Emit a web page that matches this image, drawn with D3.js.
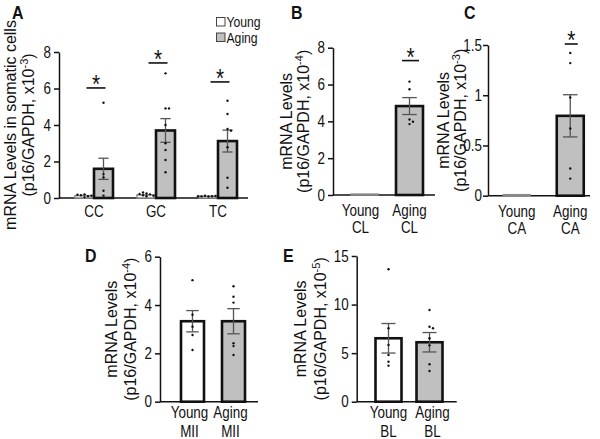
<!DOCTYPE html>
<html>
<head>
<meta charset="utf-8">
<script src="https://cdn.jsdelivr.net/npm/d3@7"></script>
<style>
  body { margin: 0; background: #fff; }
  svg text { font-family: "Liberation Sans", Arial, sans-serif; fill: #111; }
</style>
</head>
<body>
<svg id="fig" width="600" height="439"></svg>
<script>
// values
const groups = ["Young", "Aging"];

// A - somatic cells, x10^-3
const aCats = ["CC", "GC", "TC"];
const aYoungMean = [0.13, 0.17, 0.10];
const aYoungSem = [0.03, 0.03, 0.02];
const aYoungDots = [
  [0.05, 0.10, 0.15, 0.20, 0.12, 0.18, 0.08],
  [0.10, 0.20, 0.25, 0.15, 0.30, 0.12, 0.22],
  [0.08, 0.10, 0.12, 0.11, 0.09, 0.13, 0.10]
];
const aAgingMean = [1.6, 3.7, 3.12];
const aAgingSem = [0.58, 0.65, 0.6];
const aAgingDots = [
  [5.22, 1.31, 1.13, 0.40, 0.13],
  [6.83, 4.91, 4.91, 4.0, 3.0, 2.63, 2.08, 1.41],
  [5.33, 4.6, 3.78, 3.69, 2.78, 1.11, 0.56]
];
const aSig = [6.03, 7.4, 6.36];
const aTicks = [0, 2, 4, 6, 8];

// B - CL, x10^-4
const bMean = [0.05, 4.83];
const bSem = [0.01, 0.46];
const bDots = [[], [6.16, 5.74, 4.1, 3.98, 3.85]];
const bSig = 7.3;
const bTicks = [0, 2, 4, 6, 8];

// C - CA, x10^-3
const cMean = [0.01, 0.795];
const cSem = [0.002, 0.21];
const cDots = [[], [1.42, 1.32, 0.977, 0.67, 0.27, 0.17]];
const cSig = 1.51;
const cTicks = [0, 0.5, 1, 1.5];

// D - MII, x10^-4
const dMean = [3.33, 3.33];
const dSem = [0.44, 0.52];
const dDots = [[5.03, 3.6, 3.1, 2.76, 2.14], [4.78, 4.34, 4.1, 2.42, 2.3, 1.93]];
const dTicks = [0, 2, 4, 6];

// E - BL, x10^-5
const eMean = [6.53, 6.12];
const eSem = [1.52, 1.0];
const eDots = [[13.63, 7.56, 5.84, 4.81, 4.12, 3.71], [9.44, 7.72, 7.56, 6.53, 5.8, 3.86, 3.16]];
const eTicks = [0, 5, 10, 15];

const fill = {Young: "#ffffff", Aging: "#c0c0c0"};
const SX = 0.84;   // text in the figure is horizontally squeezed

const svg = d3.select("#fig");

function htext(g, x, y, str, size, anchor, weight) {
  return g.append("text")
    .attr("transform", "translate(" + x + "," + y + ") scale(" + SX + ",1)")
    .attr("text-anchor", anchor || "middle")
    .attr("font-size", size)
    .attr("font-weight", weight || "normal")
    .attr("fill", "#111")
    .text(str);
}

// simple beeswarm so overlapping dots sit side by side
function swarm(vals, y, cx) {
  const placed = [];
  const offs = [0, 3.5, -3.5, 7, -7, 10.5, -10.5];
  return vals.map(v => {
    const py = y(v);
    for (const o of offs) {
      if (!placed.some(p => Math.abs(p[1] - py) < 2.6 && Math.abs(p[0] - (cx + o)) < 3)) {
        placed.push([cx + o, py]);
        return [cx + o, py];
      }
    }
    return [cx, py];
  });
}

function drawBar(g, y, cx, w, mean, sem, dots, color) {
  const top = y(mean), base = y(0);
  const tiny = base - top < 4;
  g.append("rect")
    .attr("x", cx - w / 2).attr("y", top)
    .attr("width", w).attr("height", Math.max(base - top, 0.5))
    .attr("fill", color)
    .attr("stroke", tiny ? "#8a8a8a" : "#111")
    .attr("stroke-width", tiny ? 1.5 : 2.6);
  if (!tiny) {
    const cap = w * 0.27;
    const eb = g.append("g").attr("stroke", "#555").attr("stroke-width", 1.3);
    eb.append("line").attr("x1", cx).attr("x2", cx).attr("y1", y(mean + sem)).attr("y2", y(mean - sem));
    eb.append("line").attr("x1", cx - cap).attr("x2", cx + cap).attr("y1", y(mean + sem)).attr("y2", y(mean + sem));
    eb.append("line").attr("x1", cx - cap).attr("x2", cx + cap).attr("y1", y(mean - sem)).attr("y2", y(mean - sem));
  }
  g.selectAll(null).data(swarm(dots, y, cx)).enter().append("circle")
    .attr("cx", d => d[0]).attr("cy", d => d[1]).attr("r", 1.2).attr("fill", "#111");
}

function drawSig(g, y, cx, w, v) {
  g.append("line").attr("x1", cx - w / 2).attr("x2", cx + w / 2)
    .attr("y1", y(v)).attr("y2", y(v)).attr("stroke", "#111").attr("stroke-width", 1.6);
  htext(g, cx, y(v) + 5, "*", 25);
}

function yAxis(g, y, ticks, fmt, axX, axEnd, pad) {
  const ax = g.append("g").attr("transform", "translate(" + axX + ",0)")
    .call(d3.axisLeft(y).tickValues(ticks).tickFormat(fmt || d3.format("d")).tickSize(5).tickSizeOuter(0));
  ax.select(".domain").attr("stroke", "#111").attr("stroke-width", 1.5);
  ax.selectAll(".tick line").attr("stroke", "#111").attr("stroke-width", 1.5);
  ax.selectAll(".tick text")
    .attr("x", 0)
    .attr("transform", "translate(" + (-(pad || 8)) + ",0) scale(" + SX + ",1)")
    .attr("font-size", 16).attr("fill", "#111");
  g.append("line").attr("x1", axX).attr("x2", axEnd)
    .attr("y1", y(0)).attr("y2", y(0)).attr("stroke", "#111").attr("stroke-width", 1.5);
}

function yLabel(g, x1, x2, yc, line1, expo) {
  g.append("text")
    .attr("transform", "translate(" + x1 + "," + yc + ") rotate(-90)")
    .attr("text-anchor", "middle").attr("font-size", 16).attr("fill", "#111").text(line1);
  const t = g.append("text")
    .attr("transform", "translate(" + x2 + "," + yc + ") rotate(-90)")
    .attr("text-anchor", "middle").attr("font-size", 16).attr("fill", "#111");
  t.append("tspan").text("(p16/GAPDH, x10");
  t.append("tspan").attr("font-size", 11).attr("dy", -6).text(expo);
  t.append("tspan").attr("dy", 6).text(")");
}

// ---------- panel A ----------
(function () {
  const g = svg.append("g");
  const y = d3.scaleLinear().domain([0, 8]).range([198, 52]);
  const x0 = d3.scaleBand().domain(aCats).range([63, 249]);
  const x1 = d3.scaleBand().domain(groups).range([-19, 19]);
  yAxis(g, y, aTicks, null, 59, 248);
  aCats.forEach((c, i) => {
    const cx = x0(c) + x0.bandwidth() / 2;
    drawBar(g, y, cx + x1("Young") + x1.bandwidth() / 2, x1.bandwidth(), aYoungMean[i], aYoungSem[i], aYoungDots[i], fill.Young);
    drawBar(g, y, cx + x1("Aging") + x1.bandwidth() / 2, x1.bandwidth(), aAgingMean[i], aAgingSem[i], aAgingDots[i], fill.Aging);
    drawSig(g, y, cx + 2, 19, aSig[i]);
    htext(g, cx, 217, c, 16);
  });
  yLabel(g, 16, 34, 125, "mRNA Levels in somatic cells", "-3");
  htext(g, 12, 19, "A", 19, "start", "bold");
  // legend
  groups.forEach((k, i) => {
    g.append("rect").attr("x", 216.5).attr("y", 17.5 + i * 15.5).attr("width", 8.5).attr("height", 8.5)
      .attr("fill", fill[k]).attr("stroke", "#444").attr("stroke-width", 1);
    htext(g, 226.5, 27 + i * 15.5, k, 14.5, "start");
  });
})();

// ---------- panels B to E ----------
function pairPanel(p) {
  const g = svg.append("g");
  const y = d3.scaleLinear().domain([0, p.max]).range([p.yb, p.yt]);
  const x = d3.scaleBand().domain(groups).range(p.xr);
  yAxis(g, y, p.ticks, p.fmt, p.ax, p.axEnd, p.pad);
  groups.forEach((k, i) => {
    const cx = x(k) + x.bandwidth() / 2;
    drawBar(g, y, cx, p.bw, p.mean[i], p.sem[i], p.dots[i], fill[k]);
    htext(g, cx + (p.labShift ? p.labShift[i] : 0), p.yb + p.l1, k, 16);
    htext(g, cx + (p.labShift ? p.labShift[i] : 0), p.yb + p.l2, p.sub, 16);
  });
  if (p.sig != null) drawSig(g, y, x("Aging") + x.bandwidth() / 2 + 1, p.sigW, p.sig);
  yLabel(g, p.lx1, p.lx2, (p.yb + p.yt) / 2, "mRNA Levels", p.expo);
  htext(g, p.letter[1], p.letter[2], p.letter[0], 19, "start", "bold");
}

pairPanel({max: 8, yb: 195, yt: 47.7, xr: [342, 432], ax: 333, axEnd: 435, bw: 27,
  ticks: bTicks, mean: bMean, sem: bSem, dots: bDots, sig: bSig, sigW: 17, sub: "CL",
  l1: 21, l2: 38, labShift: [-4, 0], lx1: 292, lx2: 309, expo: "-4", letter: ["B", 291, 19]});

pairPanel({max: 1.5, yb: 195.7, yt: 45, xr: [490, 597], ax: 488, axEnd: 590, bw: 27, pad: 6,
  ticks: cTicks, fmt: d => d === 0 ? "0" : (d === 1 ? "1" : d3.format(".1f")(d)),
  mean: cMean, sem: cSem, dots: cDots, sig: cSig, sigW: 13, sub: "CA",
  l1: 21, l2: 38, lx1: 449, lx2: 466, expo: "-3", letter: ["C", 464, 19]});

pairPanel({max: 6, yb: 401.7, yt: 256.7, xr: [172, 254], ax: 160, axEnd: 258, bw: 23,
  ticks: dTicks, mean: dMean, sem: dSem, dots: dDots, sub: "MII",
  l1: 16, l2: 35, labShift: [-3, -3], lx1: 117, lx2: 136, expo: "-4", letter: ["D", 85, 262]});

pairPanel({max: 15, yb: 401.7, yt: 256, xr: [368, 450], ax: 356.7, axEnd: 456.7, bw: 26,
  ticks: eTicks, mean: eMean, sem: eSem, dots: eDots, sub: "BL",
  l1: 16, l2: 35, labShift: [0, 3], lx1: 306, lx2: 326, expo: "-5", letter: ["E", 283, 262]});
</script>
</body>
</html>
